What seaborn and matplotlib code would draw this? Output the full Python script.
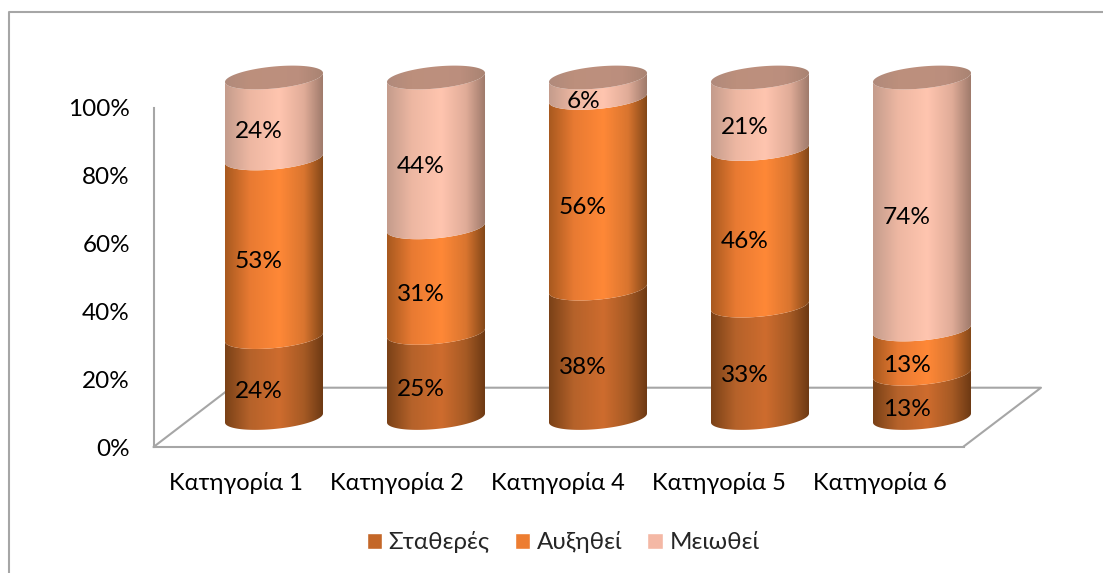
import numpy as np
import matplotlib
matplotlib.use("Agg")
import matplotlib.pyplot as plt
from matplotlib.colors import LinearSegmentedColormap
from matplotlib.lines import Line2D
from matplotlib.patches import PathPatch
from matplotlib.path import Path
from matplotlib.ticker import PercentFormatter
import seaborn as sns

categories = ["Κατηγορία 1", "Κατηγορία 2", "Κατηγορία 4", "Κατηγορία 5", "Κατηγορία 6"]
stable = [24, 25, 38, 33, 13]
increased = [53, 31, 56, 46, 13]
decreased = [24, 44, 6, 21, 74]
series_names = ["Σταθερές", "Αυξηθεί", "Μειωθεί"]

W, H = 1103, 573
GRAY = "#A6A6A6"
swatches = ["#C46728", "#ED7D31", "#F4B8A5"]
stops = [0, 0.25, 0.55, 0.8, 1]
shades = [
    ["#7A4117", "#B5622A", "#CE6C2E", "#A65A24", "#6B3813"],
    ["#A8591F", "#E87A32", "#FF8837", "#D9752F", "#7F4517"],
    ["#C49C8C", "#EDB7A2", "#FFC5AF", "#E0AC98", "#9C7869"],
]
cap_shades = ["#B08A7B", "#BC8F7C", "#BD907E", "#BB8E7D", "#A88372"]


def rect_px(left, top, right, bottom):
    return [left / W, 1 - bottom / H, (right - left) / W, (bottom - top) / H]


sns.set_theme(style="white")
plt.rcParams["font.family"] = ["Lato", "Open Sans", "DejaVu Sans"]
plt.rcParams["font.size"] = 17

fig = plt.figure(figsize=(W / 100, H / 100), dpi=100, facecolor="white")

# the "wall and floor" axes carry the tick labels
ax_back = fig.add_axes(rect_px(153.5, 108, 964, 447), zorder=1)
ax_back.patch.set_alpha(0)
sns.barplot(x=categories, y=[0] * 5, ax=ax_back)
ax_back.set_xlim(-0.51, 4.52)
ax_back.set_ylim(0, 100)
ax_back.yaxis.set_major_formatter(PercentFormatter(decimals=0))
ax_back.set_yticks(range(0, 101, 20))
ax_back.tick_params(axis="y", length=0, pad=17, labelsize=17.5, labelcolor="black")
ax_back.tick_params(axis="x", length=0, pad=18, labelsize=17, labelcolor="black")
ax_back.set_xlabel("")
ax_back.set_ylabel("")
sns.despine(ax=ax_back, top=True, right=True)
for side in ["left", "bottom"]:
    ax_back.spines[side].set_color(GRAY)
    ax_back.spines[side].set_linewidth(1.5)

# floor outline and outer frame
floor_x = [153.5, 231, 1041, 963]
floor_y = [447, 387.7, 387.7, 447]
fig.add_artist(Line2D([x / W for x in floor_x], [1 - y / H for y in floor_y],
                      color=GRAY, lw=1.5, zorder=0.5))
frame_x = [9, 9, 1103]
frame_y = [573, 12, 12]
fig.add_artist(Line2D([x / W for x in frame_x], [1 - y / H for y in frame_y],
                      color=GRAY, lw=1.5, zorder=0.5))

# cylinders sit on the floor, shifted up and right from the front axes
ax = fig.add_axes(rect_px(193, 77.5, 1003, 418), zorder=2)
ax.patch.set_alpha(0)

values = np.array([stable, increased, decreased], dtype=float)
percent = values / values.sum(axis=0) * 100
bottom = np.zeros(len(categories))
for i, name in enumerate(series_names):
    sns.barplot(x=categories, y=percent[i], bottom=bottom, color=swatches[i], saturation=1,
                width=0.605, label=name, ax=ax, legend=False)
    bottom += percent[i]
ax.set_xlim(-0.5, 4.5)
ax.set_ylim(0, 100)

leg = ax.legend(loc="center left", bbox_to_anchor=(0.2145, -0.3645), ncol=3, frameon=False, fontsize=17.4,
                handlelength=0.64, handleheight=0.64, handletextpad=0.27, columnspacing=1.04,
                borderpad=0, borderaxespad=0)
ax.axis("off")

k = 100 / 340.5  # data units per pixel
t_front = np.linspace(np.pi, 0, 60)
t_full = np.linspace(0, 2 * np.pi, 120)


def rim(cx, half_w, y0, t):
    return np.column_stack([cx + half_w * np.cos(t), y0 - k * (11 * np.sin(t) - 4.5 * np.cos(t))])


for i, container in enumerate(ax.containers):
    cmap = LinearSegmentedColormap.from_list("shade", list(zip(stops, shades[i])))
    for j, bar in enumerate(container):
        x0, w, y0, h = bar.get_x(), bar.get_width(), bar.get_y(), bar.get_height()
        bar.set_visible(False)
        cx = x0 + w / 2
        low = rim(cx, w / 2, y0, t_front)
        high = rim(cx, w / 2, y0 + h, t_front[::-1])
        pts = np.vstack([low, high, low[:1]])
        clip = PathPatch(Path(pts), transform=ax.transData, fc="none", ec="none", clip_on=False)
        ax.add_patch(clip)
        grad = np.linspace(0, 1, 256).reshape(1, -1)
        im = ax.imshow(grad, cmap=cmap, extent=[x0, x0 + w, y0 - 5, y0 + h + 5], aspect="auto", zorder=2 + i)
        im.set_clip_box(fig.bbox)
        im.set_clip_path(clip)
        ax.annotate(f"{values[i, j]:.0f}%", (cx, y0 + h / 2), xytext=(-15 * 0.72, -14 * 0.72),
                    textcoords="offset points", ha="center", va="center", fontsize=17.6, color="black", zorder=10)
        if i == 2:
            cap = rim(cx, w / 2, y0 + h, t_full)
            cap_clip = PathPatch(Path(cap), transform=ax.transData, fc="none", ec="none", clip_on=False)
            ax.add_patch(cap_clip)
            cap_cmap = LinearSegmentedColormap.from_list("cap", cap_shades)
            top = ax.imshow(grad, cmap=cap_cmap, extent=[x0, x0 + w, y0 + h - 6, y0 + h + 6], aspect="auto", zorder=6)
            top.set_clip_box(fig.bbox)
            top.set_clip_path(cap_clip)
ax.set_xlim(-0.5, 4.5)
ax.set_ylim(0, 100)

fig.savefig("out.png", dpi=100, facecolor="white")
